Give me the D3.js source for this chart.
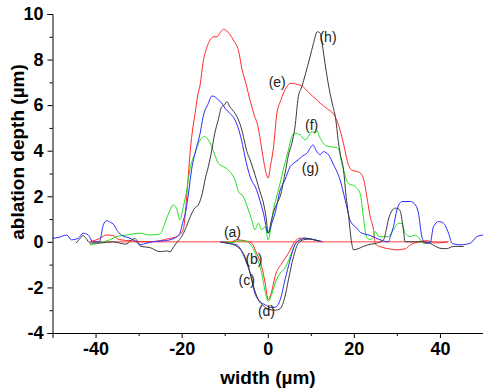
<!DOCTYPE html>
<html>
<head>
<meta charset="utf-8">
<script src="https://cdn.jsdelivr.net/npm/d3@7"></script>
<style>
  html, body { margin: 0; padding: 0; background: #fff; }
  svg { display: block; }
  .tick text { font-family: Arial, "Liberation Sans", sans-serif; font-weight: bold; font-size: 18px; fill: #000; }
</style>
</head>
<body>
<svg id="chart" width="483" height="392"></svg>
<script>
// ---- data ----
const xMajorTicks = [-40, -20, 0, 20, 40];
const xMinorTicks = [-30, -10, 10, 30, 50];
const yMajorTicks = [-4, -2, 0, 2, 4, 6, 8, 10];
const yMinorTicks = [-3, -1, 1, 3, 5, 7, 9];

// (a) untreated reference line
const curveA = [[-41, 0], [42, 0]];

// small dips (b)-(d)
const curveRedSmall = [[-10,0],[-8.8,-0.03],[-7.2,0.09],[-5.7,0.06],[-3.7,-0.06],[-2.6,-0.5],[-1.4,-1.08],[-0.6,-1.81],[0.1,-2.54],[0.9,-2.18],[1.7,-1.52],[3.3,-0.93],[4.8,-0.5],[6.3,0.01],[7.5,0.16],[8.7,0.16],[10.6,0.09],[12.9,0]];
const curveGreenSmall = [[-10,0],[-8,-0.03],[-7.2,0.04],[-5.3,0.04],[-3.7,-0.2],[-2.6,-0.64],[-1.4,-1.37],[-0.6,-2.18],[0.1,-2.62],[0.9,-2.32],[1.7,-1.81],[2.9,-1.37],[4,-1.15],[5.2,-0.64],[6.3,-0.13],[7.5,0.09],[8.9,0.16],[10.6,0.1],[12.5,0]];
const curveBlueSmall = [[-11,0],[-9.5,-0.06],[-7.2,-0.13],[-6,-0.43],[-4.9,-0.93],[-4.1,-1.37],[-3,-2.25],[-1.8,-2.62],[-0.6,-2.76],[0.5,-2.87],[1.7,-2.87],[2.9,-2.54],[4,-1.67],[5.2,-0.79],[6.3,-0.13],[7.5,0.09],[8.7,0.16],[10.6,0.1],[12.5,0.02]];
const curveBlackSmall = [[-11,0],[-9.1,-0.06],[-7.2,-0.2],[-5.7,-0.5],[-4.5,-1.08],[-3.3,-1.96],[-2.2,-2.54],[-1,-2.8],[0.1,-2.95],[1.7,-3.0],[2.9,-2.93],[4,-2.4],[4.8,-1.67],[6,-0.64],[7.1,-0.06],[8.3,0.09],[9.8,0.12],[12,0.02]];

// (e) red
const curveE = [[-41.3,0.0],[-39,0.15],[-37.5,0.3],[-36,0.28],[-34.5,0.1],[-32,0.05],[-28,0.0],[-25,0.05],[-23,0.15],[-21.5,0.2],[-20.5,0.3],[-19.6,0.55],[-19.0,1.6],[-18.5,2.8],[-18.0,4.0],[-17.4,5.0],[-16.9,5.6],[-16.3,6.4],[-15.7,6.9],[-15.0,7.9],[-14.2,8.5],[-13.4,8.86],[-12.5,9.0],[-11.8,9.0],[-11.0,9.2],[-10.3,9.33],[-9.5,9.25],[-8.8,9.1],[-7.8,8.8],[-6.8,8.4],[-6.0,7.6],[-5.0,6.9],[-4.1,6.2],[-3.2,5.6],[-2.2,5.0],[-1.5,4.2],[-0.8,3.4],[0.1,2.8],[0.7,3.4],[1.3,4.1],[2.1,5.6],[3.0,6.2],[4.4,6.8],[5.2,6.95],[6.0,6.96],[7.0,6.9],[7.9,6.85],[8.8,6.7],[9.8,6.5],[11.0,6.3],[12.2,6.08],[13.7,5.86],[15.3,5.6],[16.0,5.35],[16.8,4.9],[17.6,4.3],[18.7,3.4],[19.5,3.15],[20.5,3.1],[21.3,3.05],[22.2,2.8],[23.0,2.0],[23.8,1.1],[24.6,0.5],[25.0,-0.1],[26,-0.2],[28,-0.3],[30,-0.35],[32,-0.3],[33,-0.15],[35,0.0],[37,0.05],[39,-0.05],[41.9,0.0]];

// (f) green
const curveF = [[-41.3,-0.13],[-39.1,-0.05],[-36.7,0.09],[-35.1,0.23],[-32.8,0.3],[-29.7,0.38],[-27.4,0.3],[-25,0.35],[-23.9,0.82],[-22.7,1.4],[-22,1.62],[-21.2,1.48],[-20.4,0.96],[-19.6,1.55],[-18.8,2.28],[-18.1,3.16],[-16.9,3.89],[-15.7,4.47],[-14.6,4.62],[-13.8,4.47],[-13,4.18],[-12.3,3.82],[-11.5,3.45],[-10.3,3.3],[-8.8,3.08],[-7.6,2.72],[-6.8,2.2],[-5.7,2.0],[-4.5,1.4],[-3.7,0.96],[-3,0.53],[-2.2,0.82],[-1.4,0.53],[-0.6,0.67],[0.1,0.09],[1.3,1.4],[2.5,2.28],[3.6,3.16],[4.8,4.03],[5.6,4.62],[6.3,4.77],[7.5,4.7],[8.7,4.47],[9.4,4.62],[10.2,4.84],[11,4.77],[11.4,4.9],[12,4.62],[12.9,4.33],[14.1,4.18],[16,4.15],[16.6,4.0],[17.0,3.6],[17.6,3.16],[18.7,2.57],[20.3,2.43],[21.5,2.1],[22.2,1.1],[23,0.2],[23.8,0.1],[24.6,0.23],[25,0.45],[25.8,0.23],[28,0.23],[29.2,0.53],[30.4,0.82],[31.2,0.8],[31.9,0.38],[33.1,0.23],[34.3,0.3],[35,0.2],[36.2,-0.06],[37.5,0.0]];

// (g) blue
const curveG = [[-50,0.15],[-48.5,0.2],[-46.7,0.3],[-45.6,0.09],[-44,0.16],[-42.9,0.38],[-41.7,0.3],[-40.6,0.0],[-39.1,0.0],[-38.2,0.75],[-37.4,0.93],[-36.5,0.85],[-35.9,0.79],[-35.1,0.53],[-34,0.3],[-32,0.16],[-30.5,0.0],[-29.7,-0.13],[-28,-0.05],[-26.6,0.01],[-24,0.05],[-22.7,0.09],[-21,0.25],[-20.4,0.38],[-19.6,0.96],[-19.2,1.2],[-18.5,2.0],[-17.7,3.16],[-16.5,4.18],[-15.7,4.77],[-15,5.5],[-13.8,6.08],[-13,6.4],[-12.3,6.37],[-11.5,6.23],[-10.7,6.1],[-9.9,5.86],[-8.8,5.64],[-7.6,5.35],[-6.4,4.7],[-5.7,4.12],[-5.3,3.74],[-4.1,2.86],[-2.6,2.28],[-1.8,1.8],[-1,1.26],[0.1,0.38],[0.9,0.8],[1.7,1.26],[2.9,2.28],[4,2.72],[5.2,3.3],[6,3.45],[7.1,3.6],[7.9,3.74],[9.1,3.89],[10.5,4.25],[11.4,3.96],[12.2,3.82],[12.9,3.96],[14.1,3.82],[15.3,3.38],[16.8,2.72],[17.6,2.14],[18.4,1.5],[19.1,0.96],[19.5,0.82],[20.7,0.6],[21.5,0.42],[23.8,0.28],[26.1,0.09],[28,0.0],[28.6,0.3],[29.2,0.67],[30,1.4],[31.2,1.77],[33.1,1.77],[34.3,1.62],[35,1.26],[35.8,0.23],[36.6,-0.06],[37.7,-0.06],[38.5,0.67],[39.7,0.89],[40.8,0.82],[42,0.38],[42.8,-0.06],[44.7,-0.13],[47,-0.06],[48.6,0.23],[50,0.3]];

// (h) black
const curveH = [[-44.5,-0.05],[-43.6,0.15],[-42.9,0.28],[-42.2,0.15],[-41.3,-0.05],[-39,-0.05],[-36,0.0],[-33,-0.1],[-31.8,0.05],[-30.9,0.15],[-30.2,0.0],[-29.5,-0.2],[-27.4,-0.25],[-25,-0.43],[-23.5,-0.4],[-22.7,-0.43],[-21.8,-0.2],[-21.2,-0.05],[-20.5,0.1],[-20,0.23],[-19.2,0.53],[-18,1.1],[-16.9,1.5],[-16.2,1.6],[-15.7,1.8],[-15,2.3],[-14.6,2.7],[-13.8,3.3],[-13,4.03],[-12.3,4.77],[-11.5,5.35],[-10.7,5.93],[-10.1,6.0],[-9.5,6.15],[-8.8,5.93],[-7.6,5.64],[-6.8,5.35],[-6.0,4.9],[-5.3,4.33],[-4.9,4.0],[-4.1,3.6],[-3.4,3.2],[-2.6,2.72],[-1.8,2.2],[-1.0,1.7],[-0.4,1.1],[0.1,0.38],[0.8,0.9],[1.5,1.4],[2.2,1.7],[2.9,2.0],[4.0,3.0],[4.8,3.8],[5.6,4.33],[6.3,5.0],[7.1,6.37],[7.9,6.8],[8.8,7.4],[9.8,8.1],[10.6,8.7],[11.5,9.22],[12.2,9.15],[12.8,8.5],[13.3,7.84],[14.0,7.0],[14.5,6.5],[15.2,5.9],[15.7,5.5],[16.4,4.4],[16.8,3.9],[17.6,3.16],[18.2,2.0],[18.7,1.26],[19.5,-0.05],[19.9,-0.35],[21,-0.3],[22.2,-0.2],[24,-0.1],[25.3,-0.06],[26.9,0.09],[27.5,0.5],[28,0.96],[28.8,1.35],[29.6,1.48],[30.3,1.45],[30.8,1.33],[31.5,0.53],[31.9,0.01],[34,0.0],[36,0.0],[37.7,-0.06],[39,-0.2],[40,-0.28],[41.5,-0.3],[43.2,-0.2],[45.5,-0.2]];

const curveLabels = ["(a)", "(b)", "(c)", "(d)", "(e)", "(f)", "(g)", "(h)"];
const labelAnchors = [[-8.2, 0.38], [-3.2, -0.8], [-4.9, -1.75], [-0.3, -3.11], [2.2, 6.97], [10.2, 5.05], [9.9, 3.2], [14, 8.95]];

// ---- drawing ----
const svg = d3.select("#chart");
const x = d3.scaleLinear().domain([-50, 50]).range([52.5, 483]);
const y = d3.scaleLinear().domain([-4, 10]).range([333, 14]);

const series = [
  { data: curveA, color: "#ff4040" },
  { data: curveE, color: "#ff2a2a" },
  { data: curveF, color: "#22e022" },
  { data: curveG, color: "#2b2bff" },
  { data: curveH, color: "#3a3a3a" },
  { data: curveRedSmall, color: "#ff2a2a" },
  { data: curveGreenSmall, color: "#22e022" },
  { data: curveBlueSmall, color: "#2b2bff" },
  { data: curveBlackSmall, color: "#3a3a3a" }
];

const line = d3.line().x(d => x(d[0])).y(d => y(d[1])).curve(d3.curveMonotoneX);

svg.append("g").selectAll("path").data(series).join("path")
  .attr("d", d => line(d.data))
  .attr("fill", "none")
  .attr("stroke", d => d.color)
  .attr("stroke-width", 1);

// axes
const xAxis = svg.append("g").attr("transform", `translate(0,${y(-4)})`)
  .call(d3.axisBottom(x).tickValues(xMajorTicks).tickSize(5).tickPadding(4).tickFormat(d3.format("d")));
svg.append("g").attr("transform", `translate(0,${y(-4)})`)
  .call(d3.axisBottom(x).tickValues(xMinorTicks).tickSize(3).tickFormat(""))
  .select(".domain").remove();

const yAxis = svg.append("g").attr("transform", `translate(${x(-50)},0)`)
  .call(d3.axisLeft(y).tickValues(yMajorTicks).tickSize(5).tickPadding(4).tickFormat(d3.format("d")));
svg.append("g").attr("transform", `translate(${x(-50)},0)`)
  .call(d3.axisLeft(y).tickValues(yMinorTicks).tickSize(3).tickFormat(""))
  .select(".domain").remove();

svg.selectAll(".domain").attr("stroke", "#000").attr("stroke-width", 1);
svg.selectAll(".tick line").attr("stroke", "#000");
svg.selectAll(".tick text").text(function() { return d3.select(this).text().replace("−", "-"); });

// axis titles
svg.append("text")
  .attr("x", 268).attr("y", 384)
  .attr("text-anchor", "middle")
  .style("font-family", "Arial, 'Liberation Sans', sans-serif")
  .style("font-weight", "bold").style("font-size", "19px")
  .text("width (\u00b5m)");

svg.append("text")
  .attr("transform", "translate(24,152) rotate(-90)")
  .attr("text-anchor", "middle")
  .style("font-family", "Arial, 'Liberation Sans', sans-serif")
  .style("font-weight", "bold").style("font-size", "19px")
  .text("ablation depth (\u00b5m)");

// curve labels
svg.append("g").selectAll("text").data(curveLabels).join("text")
  .attr("x", (d, i) => x(labelAnchors[i][0]))
  .attr("y", (d, i) => y(labelAnchors[i][1]))
  .attr("text-anchor", "middle")
  .attr("dominant-baseline", "middle")
  .style("font-family", "Arial, 'Liberation Sans', sans-serif")
  .style("font-size", "14px")
  .style("fill", "#222")
  .text(d => d);
</script>
</body>
</html>
